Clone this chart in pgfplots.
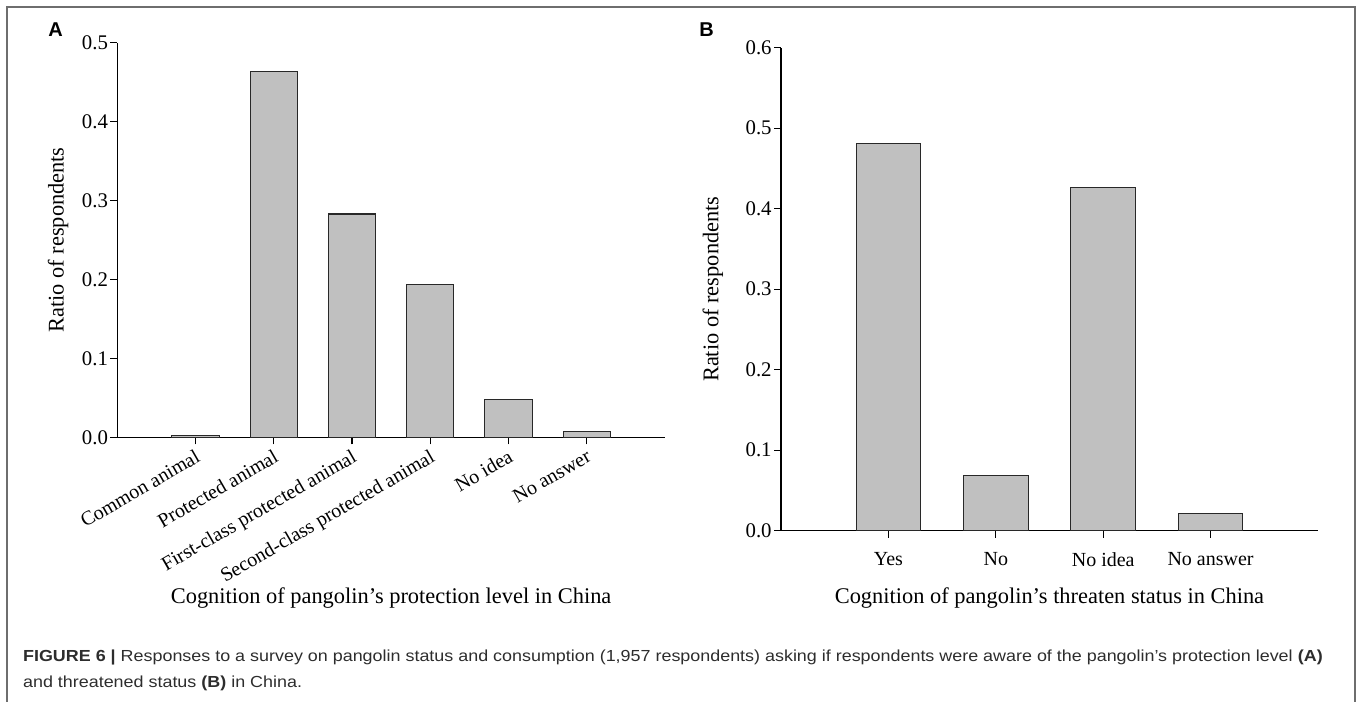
\documentclass[border=0pt]{standalone}
\usepackage{fontspec}
\setmainfont{Liberation Serif}
\newfontfamily\capfont[FakeStretch=1.12]{Liberation Sans}
\newfontfamily\letterfont{Liberation Sans}
\usepackage{pgfplots}
\usepackage{pgfplotstable}
\pgfplotsset{compat=1.18}

\definecolor{barfill}{RGB}{192,192,192}
\definecolor{baredge}{RGB}{40,40,40}
\definecolor{framegray}{RGB}{110,110,110}
\definecolor{captext}{RGB}{45,45,45}

% Panel A: awareness of the pangolin's protection level
\pgfplotstableread{
idx value
0 0.002
1 0.464
2 0.283
3 0.194
4 0.048
5 0.007
}\protectiondata

% Panel B: awareness of the pangolin's threatened status
\pgfplotstableread{
idx value
0 0.481
1 0.069
2 0.426
3 0.021
}\threatdata

\pgfplotsset{
  panel/.style={
    scale only axis,
    axis lines=left,
    axis line style={-, line width=0.75pt, black},
    x axis line style={shorten <=-3.5pt},
    tick align=outside,
    major tick length=3.5pt,
    tick style={line width=0.6pt, black},
    enlargelimits=false,
    ymin=0,
    xtick=data,
    ybar,
    yticklabel style={
      /pgf/number format/fixed,
      /pgf/number format/fixed zerofill,
      /pgf/number format/precision=1,
      /pgf/number format/assume math mode=true,
      inner sep=1pt, font=\fontsize{10.4}{12}\selectfont},
    xticklabel style={font=\fontsize{10}{12}\selectfont},
    tick label style={text=black},
    label style={font=\fontsize{11.2}{13}\selectfont},
  },
}

\begin{document}
\begin{tikzpicture}
% canvas and outer frame
\path[use as bounding box] (0pt,0pt) rectangle (678.5pt,351pt);
\draw[framegray, line width=1pt] (3.35pt,0pt) -- (3.35pt,347.5pt) -- (677.5pt,347.5pt) -- (677.5pt,0pt);

% panel A
\begin{axis}[panel,
  at={(58.65pt,132.35pt)}, anchor=south west,
  width=273.85pt, height=197.3pt,
  xmin=-1, xmax=6, ymax=0.5,
  ytick={0,0.1,0.2,0.3,0.4,0.5},
  bar width=23.65pt,
  xticklabels={Common animal, Protected animal, First-class protected animal, Second-class protected animal, No idea, No answer},
  xticklabel style={rotate=30, anchor=north east, inner sep=1.5pt},
  xlabel={Cognition of pangolin’s protection level in China},
  xlabel style={at={(rel axis cs:0.5,-0.42)}, anchor=base},
  ylabel={Ratio of respondents},
  ylabel style={at={(rel axis cs:-0.108,0.5)}, anchor=center},
]
\addplot[fill=barfill, draw=baredge, line width=0.55pt] table[x=idx, y=value] {\protectiondata};
\end{axis}

% panel B
\begin{axis}[panel,
  at={(390.5pt,85.65pt)}, anchor=south west,
  width=268.5pt, height=241.5pt,
  xmin=-1, xmax=4, ymax=0.6,
  ytick={0,0.1,0.2,0.3,0.4,0.5,0.6},
  bar width=32.3pt,
  xticklabels={Yes, No, No idea, No answer},
  xticklabel style={yshift=-4pt},
  xlabel={Cognition of pangolin’s threaten status in China},
  xlabel style={at={(rel axis cs:0.5,-0.15)}, anchor=base},
  ylabel={Ratio of respondents},
  ylabel style={at={(rel axis cs:-0.127,0.5)}, anchor=center},
]
\addplot[fill=barfill, draw=baredge, line width=0.55pt] table[x=idx, y=value] {\threatdata};
\end{axis}

% panel letters
\node[anchor=base west, inner sep=0, font=\letterfont\bfseries\fontsize{10}{12}\selectfont] at (24pt,332.5pt) {A};
\node[anchor=base west, inner sep=0, font=\letterfont\bfseries\fontsize{10}{12}\selectfont] at (349.5pt,332.5pt) {B};

% caption
\node[anchor=base west, inner sep=0, text=captext, font=\capfont\fontsize{8}{9}\selectfont] at (11.35pt,20pt)
  {\textbf{FIGURE 6 |} Responses to a survey on pangolin status and consumption (1,957 respondents) asking if respondents were aware of the pangolin’s protection level \textbf{(A)}};
\node[anchor=base west, inner sep=0, text=captext, font=\capfont\fontsize{8}{9}\selectfont] at (11.35pt,7pt)
  {and threatened status \textbf{(B)} in China.};
\end{tikzpicture}
\end{document}
